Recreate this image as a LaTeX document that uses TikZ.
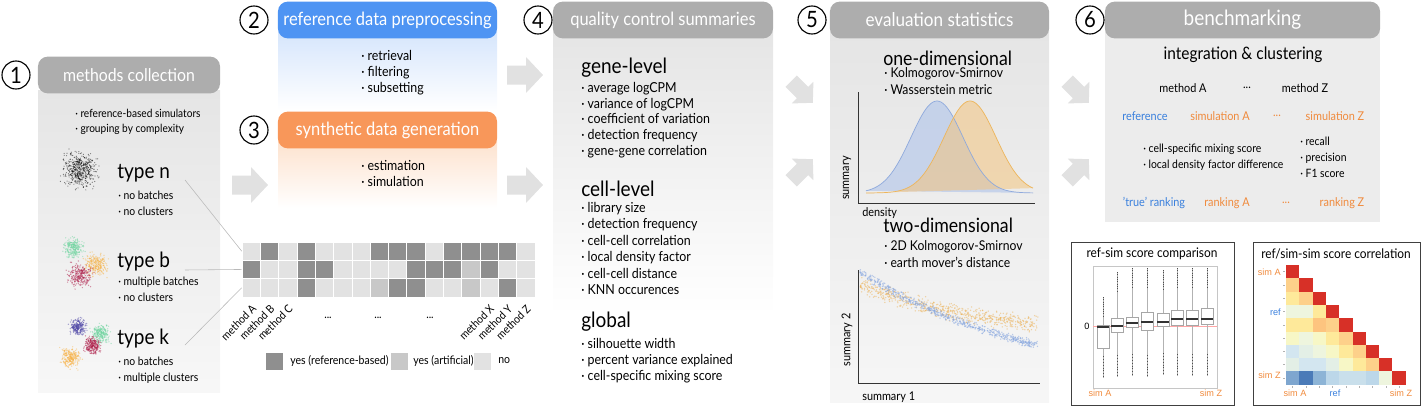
\documentclass[tikz,border=0pt]{standalone}
\usepackage{fontspec}
\setmainfont{Lato}[FakeStretch=0.9]
\newfontfamily\plotfont{Liberation Sans}
\usetikzlibrary{positioning}

\definecolor{headgray}{HTML}{ADADAD}
\definecolor{headblue}{HTML}{4E94F3}
\definecolor{headorange}{HTML}{F8975A}
\definecolor{bodygray}{HTML}{E5E5E5}
\definecolor{benchgray}{HTML}{ECECEC}
\definecolor{lightblue}{HTML}{D5E5FC}
\definecolor{lightorange}{HTML}{FDE2CE}
\definecolor{arrowgray}{HTML}{E1E1E1}
\definecolor{refblue}{HTML}{3A80DD}
\definecolor{simorange}{HTML}{F08A3C}
\definecolor{celld}{HTML}{8F8F8F}
\definecolor{cella}{HTML}{C8C8C8}
\definecolor{celln}{HTML}{E2E2E2}
\definecolor{clmint}{HTML}{6FD6A0}
\definecolor{clsand}{HTML}{F6B244}
\definecolor{clcrimson}{HTML}{AE1C48}
\definecolor{clviolet}{HTML}{5048A8}
\definecolor{densblue}{HTML}{A9C0EA}
\definecolor{densorange}{HTML}{F3C47E}
\definecolor{lineblue}{HTML}{8EA9DC}
\definecolor{lineorange}{HTML}{EDB55A}
\definecolor{ptblue}{HTML}{86A6E0}
\definecolor{ptorange}{HTML}{EDB35A}
% heatmap colours
\definecolor{hr}{HTML}{D73027}
\definecolor{hA}{HTML}{FDD08A}
\definecolor{hB}{HTML}{FEE99A}
\definecolor{hC}{HTML}{EEF5DE}
\definecolor{hD}{HTML}{FDC47F}
\definecolor{hE}{HTML}{F7F7C6}
\definecolor{hF}{HTML}{D3E6F0}
\definecolor{hG}{HTML}{E3EFE6}
\definecolor{hH}{HTML}{7EA6CF}
\definecolor{hI}{HTML}{4B7BB8}
\definecolor{hJ}{HTML}{8DB4D6}
\definecolor{hK}{HTML}{BCD7E9}
\definecolor{hL}{HTML}{C9DFEB}

\begin{document}
\begin{tikzpicture}[x=0.025cm, y=-0.025cm]
  \tikzset{
    head/.style={rounded corners=7pt, inner sep=0, minimum height=0.92cm, text=white,
      font=\fontsize{13}{15}\selectfont},
    stepnum/.style={circle, draw, line width=0.8pt, inner sep=0, minimum size=0.7cm,
      font=\fontsize{16}{16}\selectfont},
    bullets/.style={anchor=north west, align=left, inner sep=0,
      font=\fontsize{9.8}{11.4}\selectfont},
    subhead/.style={anchor=west, inner sep=0, font=\fontsize{14}{16}\selectfont},
    midtext/.style={inner sep=0, font=\fontsize{8.6}{10}\selectfont},
    gridcell/.style={draw=white, line width=0.4pt, minimum size=0.4575cm, inner sep=0},
    keytext/.style={inner sep=0, anchor=west, font=\fontsize{8.3}{10}\selectfont},
    methodlabel/.style={rotate=45, anchor=east, inner sep=0, font=\fontsize{8}{10}\selectfont},
    linkline/.style={draw=gray!55, line width=0.4pt},
    axisline/.style={draw=black!80, line width=0.7pt},
    plotlabel/.style={inner sep=0, font=\plotfont\fontsize{6.5}{7}\selectfont},
    blockarrow/.pic={
      \fill[arrowgray] (-18,-9.5) -- (1,-9.5) -- (1,-18) -- (18,0) -- (1,18) -- (1,9.5) -- (-18,9.5) -- cycle;
    },
  }
  \useasboundingbox (0,0) rectangle (1421,409);

  % panel bodies
  \shade[top color=bodygray, bottom color=gray!6] (38,90) rectangle (220,392);
  \shade[top color=lightblue, bottom color=white] (278,30) rectangle (497,110);
  \shade[top color=lightorange, bottom color=white] (278,140) rectangle (497,208);
  \shade[top color=bodygray, bottom color=white] (553,30) rectangle (773,315);
  \shade[top color=bodygray, bottom color=gray!7] (830,30) rectangle (1049,402);
  \fill[benchgray] (1105,30) rectangle (1380,222);

  % headers
  \node[head, fill=headgray, minimum width=4.55cm, font=\fontsize{12.5}{15}\selectfont] (collecthead) at (129,75) {methods collection};
  \node[head, fill=headblue, minimum width=5.475cm] (prephead) at (387.5,20) {reference data preprocessing};
  \node[head, fill=headorange, minimum width=5.475cm] (synthhead) at (387.5,130) {synthetic data generation};
  \node[head, fill=headgray, minimum width=5.5cm] (qchead) at (663,20) {quality control summaries};
  \node[head, fill=headgray, minimum width=5.475cm, font=\fontsize{13.5}{15}\selectfont] (evalhead) at (939.5,20) {evaluation statistics};
  \node[head, fill=headgray, minimum width=6.875cm, font=\fontsize{15}{15}\selectfont] (benchhead) at (1242.5,20) {benchmarking};

  % step numbers
  \node[stepnum] (s1) at (16,75) {1};
  \node[stepnum] (s2) at (254,20) {2};
  \node[stepnum] (s3) at (254,130) {3};
  \node[stepnum] (s4) at (538,20) {4};
  \node[stepnum] (s5) at (812,20) {5};
  \node[stepnum] (s6) at (1090,20) {6};

  % flow arrows
  \pic at (250,185) {blockarrow};
  \pic at (525,75) {blockarrow};
  \pic at (525,185) {blockarrow};
  \pic[rotate=-45, scale=0.85] at (802,92) {blockarrow};
  \pic[rotate=45, scale=0.85] at (802,170) {blockarrow};
  \pic[rotate=-45, scale=0.85] at (1078,92) {blockarrow};
  \pic[rotate=45, scale=0.85] at (1078,170) {blockarrow};

  % 1: methods collection
  \node[bullets, font=\fontsize{8}{10.7}\selectfont] (collectlist) at (75,109)
    {· reference-based simulators\\· grouping by complexity};
  \pgfmathsetseed{7}
  \foreach \i in {1,...,520}
    \fill[black, opacity=0.5] ({80+8*(rand+rand+rand)},{170+8*(rand+rand+rand)}) circle[radius=0.6];
  \foreach \cx/\cy/\sd/\col in {73/248/4.5/clmint, 96/265/5/clsand, 80/275/5.5/clcrimson,
                                78/327/3.8/clviolet, 101/334/4.2/clmint, 92/345/3.8/clcrimson, 71/358/4.5/clsand}
    \foreach \i in {1,...,260}
      \fill[\col, opacity=0.5] ({\cx+\sd*(rand+rand+rand)},{\cy+\sd*(rand+rand+rand)}) circle[radius=0.7];
  \node[subhead, font=\fontsize{15}{17}\selectfont] (typen) at (117,173) {type n};
  \node[bullets, font=\fontsize{8.2}{11.4}\selectfont] (typenlist) at (118,191) {· no batches\\· no clusters};
  \node[subhead, font=\fontsize{15}{17}\selectfont] (typeb) at (117,262) {type b};
  \node[bullets, font=\fontsize{8.2}{11.4}\selectfont] (typeblist) at (118,277) {· multiple batches\\· no clusters};
  \node[subhead, font=\fontsize{15}{17}\selectfont] (typek) at (117,339) {type k};
  \node[bullets, font=\fontsize{8.2}{11.4}\selectfont] (typeklist) at (118,357) {· no batches\\· multiple clusters};

  % method grid
  \foreach \r/\row in {1/{n,d,n,d,n,n,n,d,d,d,n,d,d,d,d,n},
                       2/{d,n,n,d,d,n,n,n,n,d,d,d,a,d,n,n},
                       3/{n,n,n,d,n,n,n,a,d,d,n,n,a,n,d,n}}
    \foreach \v [count=\c] in \row
      \node[gridcell, fill=cell\v] (g-\r-\c) at ({242+18.3*(\c-0.5)},{242+18.3*(\r-0.5)}) {};
  \coordinate (ln) at (185,180);
  \coordinate (lb) at (185,270);
  \coordinate (lk) at (185,345);
  \draw[linkline] (ln) -- (g-1-1.west);
  \draw[linkline] (lb) -- (g-2-1.west);
  \draw[linkline] (lk) -- (g-3-1.west);
  \foreach \c/\m in {1/A,2/B,3/C,14/X,15/Y,16/Z}
    \node[methodlabel] (m\m) at ({242+18.3*(\c-0.5)+3},307) {method \m};
  \foreach \x [count=\k] in {328,378,430}
    \node[keytext, anchor=center] (gap\k) at (\x,318) {...};
  \node[gridcell, fill=celld, minimum size=0.45cm] (keyd) at (274,361) {};
  \node[keytext, right=0.17cm of keyd] (keydtext) {yes (reference-based)};
  \node[gridcell, fill=cella, minimum size=0.45cm] (keya) at (399,361) {};
  \node[keytext, right=0.12cm of keya] (keyatext) {yes (artificial)};
  \node[gridcell, fill=celln, minimum size=0.45cm] (keyn) at (482,361) {};
  \node[keytext, right=0.17cm of keyn] (keyntext) {no};

  % 2 + 3: reference data and synthetic data
  \node[bullets] (preplist) at (361,50) {· retrieval\\· filtering\\· subsetting};
  \node[bullets] (synthlist) at (361,160) {· estimation\\· simulation};

  % 4: quality control summaries
  \node[subhead, font=\fontsize{15}{17}\selectfont] (genelevel) at (581,68) {gene-level};
  \node[bullets, font=\fontsize{9.8}{11.2}\selectfont] (genelist) at (581,82)
    {· average logCPM\\· variance of logCPM\\· coefficient of variation\\· detection frequency\\· gene-gene correlation};
  \node[subhead, font=\fontsize{15}{17}\selectfont] (celllevel) at (581,189) {cell-level};
  \node[bullets, font=\fontsize{9.8}{11.7}\selectfont] (celllist) at (581,202)
    {· library size\\· detection frequency\\· cell-cell correlation\\· local density factor\\· cell-cell distance\\· KNN occurences};
  \node[subhead, font=\fontsize{15}{17}\selectfont] (globallevel) at (581,322) {global};
  \node[bullets] (globallist) at (581,338)
    {· silhouette width\\· percent variance explained\\· cell-specific mixing score};

  % 5: evaluation statistics
  \node[subhead] (onedim) at (883,58) {one-dimensional};
  \node[bullets, font=\fontsize{9.6}{12.1}\selectfont] (onedimlist) at (884,67)
    {· Kolmogorov-Smirnov\\· Wasserstein metric};
  \fill[densblue, opacity=0.55] plot[domain=866:1033, samples=90] (\x,{193-92*exp(-0.5*((\x-937)/26)^2)}) -- cycle;
  \fill[densorange, opacity=0.55] plot[domain=866:1033, samples=90] (\x,{193-92*exp(-0.5*((\x-970)/26)^2)}) -- cycle;
  \draw[lineblue, line width=0.5pt] plot[domain=866:1033, samples=90] (\x,{193-92*exp(-0.5*((\x-937)/26)^2)});
  \draw[lineorange, line width=0.5pt] plot[domain=866:1033, samples=90] (\x,{193-92*exp(-0.5*((\x-970)/26)^2)});
  \coordinate (ax1top) at (858,92);
  \coordinate (ax1org) at (858,203);
  \coordinate (ax1end) at (1035,203);
  \draw[axisline] (ax1top) -- (ax1org) -- (ax1end);
  \node[keytext, rotate=90, anchor=center, font=\fontsize{8.6}{10}\selectfont] (summarylab) at (847,178) {summary};
  \node[keytext, font=\fontsize{8.6}{10}\selectfont] (densitylab) at (862,213) {density};

  \node[subhead] (twodim) at (883,225) {two-dimensional};
  \node[bullets, font=\fontsize{9.6}{12.1}\selectfont] (twodimlist) at (884,240)
    {· 2D Kolmogorov-Smirnov\\· earth mover's distance};
  \foreach \i in {1,...,650}{
    \pgfmathsetmacro\t{rnd}
    \fill[ptorange, opacity=0.55] ({860+178*\t},{284+40*(1-exp(-1.5*\t))/0.777+5*(rand+rand)}) circle[radius=0.75];
  }
  \foreach \i in {1,...,650}{
    \pgfmathsetmacro\t{rnd}
    \fill[ptblue, opacity=0.55] ({860+178*\t},{272+73*(1-exp(-\t))/0.632+2.5*(rand+rand)}) circle[radius=0.75];
  }
  \coordinate (ax2top) at (858,270);
  \coordinate (ax2org) at (858,383);
  \coordinate (ax2end) at (1040,383);
  \draw[axisline] (ax2top) -- (ax2org) -- (ax2end);
  \node[keytext, rotate=90, anchor=center, font=\fontsize{8.6}{10}\selectfont] (summary2lab) at (847,340) {summary 2};
  \node[keytext, font=\fontsize{8.6}{10}\selectfont] (summary1lab) at (862,397) {summary 1};

  % 6: benchmarking
  \node[inner sep=0, font=\fontsize{12.2}{15}\selectfont] (intclust) at (1243,55) {integration \& clustering};
  \node[midtext] (methA) at (1183,88) {method A};
  \node[midtext] (methdots) at (1247,88) {...};
  \node[midtext] (methZ) at (1305,88) {method Z};
  \node[midtext, text=refblue] (refname) at (1145,116) {reference};
  \node[midtext, text=simorange] (simA) at (1220,116) {simulation A};
  \node[midtext, text=simorange] (simdots) at (1277,116) {...};
  \node[midtext, text=simorange] (simZ) at (1335,116) {simulation Z};
  \node[bullets, font=\fontsize{8.2}{11.4}\selectfont] (mixlist) at (1143,144)
    {· cell-specific mixing score\\· local density factor difference};
  \node[bullets, font=\fontsize{8.2}{11.4}\selectfont] (clustlist) at (1300,137)
    {· recall\\· precision\\· F1 score};
  \node[midtext, text=refblue] (truerank) at (1154,203) {'true' ranking};
  \node[midtext, text=simorange] (rankA) at (1227,203) {ranking A};
  \node[midtext, text=simorange] (rankdots) at (1286,203) {...};
  \node[midtext, text=simorange] (rankZ) at (1342,203) {ranking Z};

  % score comparison box
  \draw[black!75, line width=0.7pt] (1071,242) rectangle (1234,405);
  \node[midtext, font=\fontsize{9.4}{10}\selectfont] (cmptitle) at (1152,254) {ref-sim score comparison};
  \draw[gray!45, line width=0.4pt] (1093,266) rectangle (1217,388);
  \draw[red!35, line width=0.5pt] (1093,326) -- (1217,326);
  \node[plotlabel] (zerolab) at (1087,326) {0};
  \foreach \x/\qa/\md/\qb/\wa/\wb in {1103/325/327/348/297/378, 1117/318/326/332/272/377,
      1132/317/323/327/268/376, 1147/312/322/330/268/377, 1163/313/322/326/270/375,
      1177/310/319/325/268/376, 1192/310/319/325/268/376, 1207/308/319/324/268/376}{
    \draw[gray!60, line width=0.3pt] (\x,\wa) -- (\x,\wb);
    \draw[black!70, line width=0.45pt, dash pattern=on 0.45pt off 1.2pt] (\x,\wa) -- (\x,{\wa+20});
    \draw[black!70, line width=0.45pt, dash pattern=on 0.45pt off 1.6pt] (\x,{\wb-22}) -- (\x,\wb);
    \draw[gray!70, fill=white, line width=0.4pt] ({\x-6},\qa) rectangle ({\x+6},\qb);
    \draw[black!80, line width=0.8pt] ({\x-6},\md) -- ({\x+6},\md);
  }
  \node[plotlabel, text=simorange] (cmpsimA) at (1100,393) {sim A};
  \node[plotlabel, text=simorange] (cmpsimZ) at (1211,393) {sim Z};

  % score correlation box
  \draw[black!75, line width=0.7pt] (1253,242) rectangle (1420,405);
  \node[midtext, font=\fontsize{9.4}{10}\selectfont] (cortitle) at (1336,254) {ref/sim-sim score correlation};
  \foreach \i/\row in {1/{hA}, 2/{hB,hA}, 3/{hC,hC,hB}, 4/{hB,hB,hD,hA}, 5/{hE,hC,hE,hB,hA},
                       6/{hF,hG,hC,hE,hB,hA}, 7/{hG,hF,hF,hG,hE,hB,hA}, 8/{hH,hI,hJ,hK,hL,hL,hK,hC}}
    \foreach \c [count=\j from 0] in \row
      \fill[\c] ({1286+13.3*\j},{265+13.3*\i}) rectangle ++(13.3,13.3);
  \foreach \i in {0,...,8}{
    \fill[hr] ({1286+13.3*\i},{265+13.3*\i}) rectangle ++(13.3,13.3);
    \draw[gray!60, line width=0.3pt] (1283,{271.6+13.3*\i}) -- (1285,{271.6+13.3*\i});
    \draw[gray!60, line width=0.3pt] ({1292.6+13.3*\i},386) -- ({1292.6+13.3*\i},388);
  }
  \node[plotlabel, text=simorange, anchor=east] (corsimA) at (1281,272) {sim A};
  \node[plotlabel, text=refblue, anchor=east] (corref) at (1281,312) {ref};
  \node[plotlabel, text=simorange, anchor=east] (corsimZ) at (1281,375) {sim Z};
  \node[plotlabel, text=simorange] (corbsimA) at (1295,393) {sim A};
  \node[plotlabel, text=refblue] (corbref) at (1335,393) {ref};
  \node[plotlabel, text=simorange] (corbsimZ) at (1401,393) {sim Z};
\end{tikzpicture}
\end{document}
